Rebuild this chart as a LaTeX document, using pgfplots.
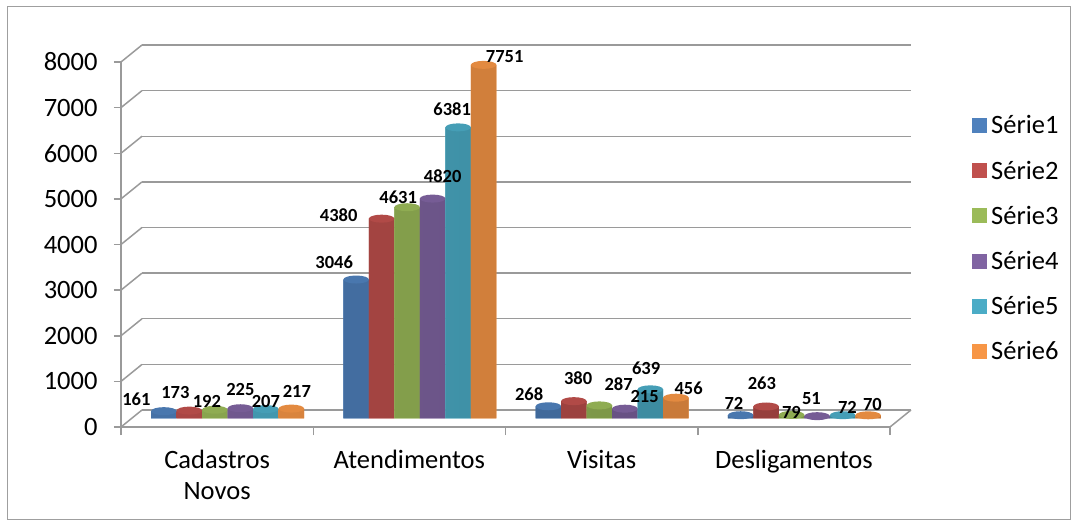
\documentclass[border=0pt]{standalone}
\usepackage{pgfplots}
\pgfplotsset{compat=1.18}
\usepackage{pgfplotstable}
\usepackage{fontspec}
\setmainfont{Carlito}
\usetikzlibrary{shapes.geometric}
\definecolor{s1}{HTML}{4F81BD}
\definecolor{s2}{HTML}{C0504D}
\definecolor{s3}{HTML}{9BBB59}
\definecolor{s4}{HTML}{8064A2}
\definecolor{s5}{HTML}{4BACC6}
\definecolor{s6}{HTML}{F79646}
\definecolor{gridc}{HTML}{9A9A9A}

% cat = category index, val = value, lx/ly = data-label offset (bp)
\pgfplotstableread{
cat val lx ly
0 161 -27.5 12.2
1 3046 -22 17.5
2 268 -19.25 11.8
3 72 -6.75 12.2
}\sA
\pgfplotstableread{
cat val lx ly
0 173 -14 18.6
1 4380 -43 3.7
2 380 4.25 23.2
3 263 -4.25 23.5
}\sB
\pgfplotstableread{
cat val lx ly
0 192 -8 8.7
1 4631 -9 10.2
2 287 19.25 21.4
3 79 -0.25 2.9
}\sC
\pgfplotstableread{
cat val lx ly
0 225 0 19.2
1 4820 10 22.6
2 215 19.75 11.7
3 51 -5.75 17.2
}\sD
\pgfplotstableread{
cat val lx ly
0 207 0 7.1
1 6381 -6 18.4
2 639 -4.25 21.3
3 72 4.75 8.2
}\sE
\pgfplotstableread{
cat val lx ly
0 217 5.5 17.6
1 7751 21 7.9
2 456 12.75 9.7
3 70 4.25 11.3
}\sF

\pgfplotsset{
  cyl/.style={draw=none, fill=#1,
    left color=#1!88!black, middle color=#1!72!white, right color=#1!78!black,
    nodes near coords={},
    every node near coord/.style={ellipse, fill=#1!92!black, draw=none, inner sep=0pt,
      minimum width=25.5bp, minimum height=8bp, anchor=center},
    forget plot},
  lbl/.style={draw=none, fill=none,
    visualization depends on={\thisrow{lx} \as \lblx},
    visualization depends on={\thisrow{ly} \as \lbly},
    nodes near coords={\pgfmathprintnumber[assume math mode=true,1000 sep={}]{\pgfplotspointmeta}},
    every node near coord/.style={font=\bfseries\fontsize{18.5bp}{20bp}\selectfont,
      inner sep=0pt, text=black, anchor=center, xshift=\lblx bp, yshift=\lbly bp},
    forget plot},
  sh/.style={bar shift=#1, every node near coord/.append style={xshift=#1}},
}

\begin{document}
\begin{tikzpicture}
\useasboundingbox (0,0) rectangle (1076bp,526bp);
\draw[gray!75, line width=1bp] (7bp,6bp) rectangle (1070bp,519bp);
% back wall grid
\begin{axis}[at={(142bp,116bp)}, anchor=south west, scale only axis,
  width=769bp, height=365bp, xmin=-0.5, xmax=3.5, ymin=0, ymax=8000,
  axis line style={draw=none}, xtick=\empty, ytick={0,1000,...,8000},
  yticklabels={,,,,,,,,}, major tick length=0pt, ymajorgrids,
  grid style={gridc, line width=1.5bp}]
\addplot[draw=none] coordinates {(0,0)};
\end{axis}
\foreach \i in {0,...,8} \draw[gridc, line width=1.5bp] (121bp,{99bp+\i*45.625bp}) -- ++(21bp,17bp);
\draw[gridc, line width=1.5bp] (890bp,99bp) -- ++(21bp,17bp);
% bars
\begin{axis}[at={(131.5bp,107.5bp)}, anchor=south west, scale only axis,
  width=769bp, height=365bp, xmin=-0.5, xmax=3.5, ymin=0, ymax=8000,
  axis lines=none, ybar, bar width=25.5bp, clip=false,
  legend image code/.code={\fill[#1, draw=none] (0bp,-7.5bp) rectangle (15bp,7.5bp);},
  legend style={at={(1.093,0.8356)}, anchor=north west, draw=none, fill=none,
    inner sep=0pt, row sep=21.5bp, font=\fontsize{26.5bp}{30bp}\selectfont,
    /tikz/every odd column/.append style={column sep=2bp}},
  legend cell align=left]
\addlegendimage{fill=s1}
\addlegendimage{fill=s2}
\addlegendimage{fill=s3}
\addlegendimage{fill=s4}
\addlegendimage{fill=s5}
\addlegendimage{fill=s6}
\addplot[cyl=s1, sh=-63.75bp] table[x=cat, y=val] {\sA};
\addplot[cyl=s2, sh=-38.25bp] table[x=cat, y=val] {\sB};
\addplot[cyl=s3, sh=-12.75bp] table[x=cat, y=val] {\sC};
\addplot[cyl=s4, sh=12.75bp] table[x=cat, y=val] {\sD};
\addplot[cyl=s5, sh=38.25bp] table[x=cat, y=val] {\sE};
\addplot[cyl=s6, sh=63.75bp] table[x=cat, y=val] {\sF};
% data labels on top
\addplot[lbl, sh=-63.75bp] table[x=cat, y=val] {\sA};
\addplot[lbl, sh=-38.25bp] table[x=cat, y=val] {\sB};
\addplot[lbl, sh=-12.75bp] table[x=cat, y=val] {\sC};
\addplot[lbl, sh=12.75bp] table[x=cat, y=val] {\sD};
\addplot[lbl, sh=38.25bp] table[x=cat, y=val] {\sE};
\addplot[lbl, sh=63.75bp] table[x=cat, y=val] {\sF};
\legend{Série1,Série2,Série3,Série4,Série5,Série6}
\end{axis}
% front axes
\begin{axis}[at={(121bp,99bp)}, anchor=south west, scale only axis,
  width=769bp, height=365bp, xmin=-0.5, xmax=3.5, ymin=0, ymax=8000,
  axis x line*=bottom, axis y line*=left,
  axis line style={gridc, line width=1.5bp, -},
  xtick={0,1,2,3},
  xticklabels={{Cadastros\\Novos},Atendimentos,Visitas,Desligamentos},
  xticklabel style={align=center, yshift=-13bp},
  major x tick style={draw=none},
  minor xtick={-0.5,0.5,1.5,2.5,3.5},
  ytick={0,1000,...,8000},
  yticklabel style={/pgf/number format/1000 sep={}, /pgf/number format/assume math mode=true, xshift=-13bp},
  tick align=outside, major tick length=7bp, minor tick length=8bp,
  tick style={gridc, line width=1.5bp},
  every tick label/.append style={font=\fontsize{26.5bp}{31bp}\selectfont}]
\addplot[draw=none] coordinates {(0,0)};
\end{axis}
\end{tikzpicture}
\end{document}
